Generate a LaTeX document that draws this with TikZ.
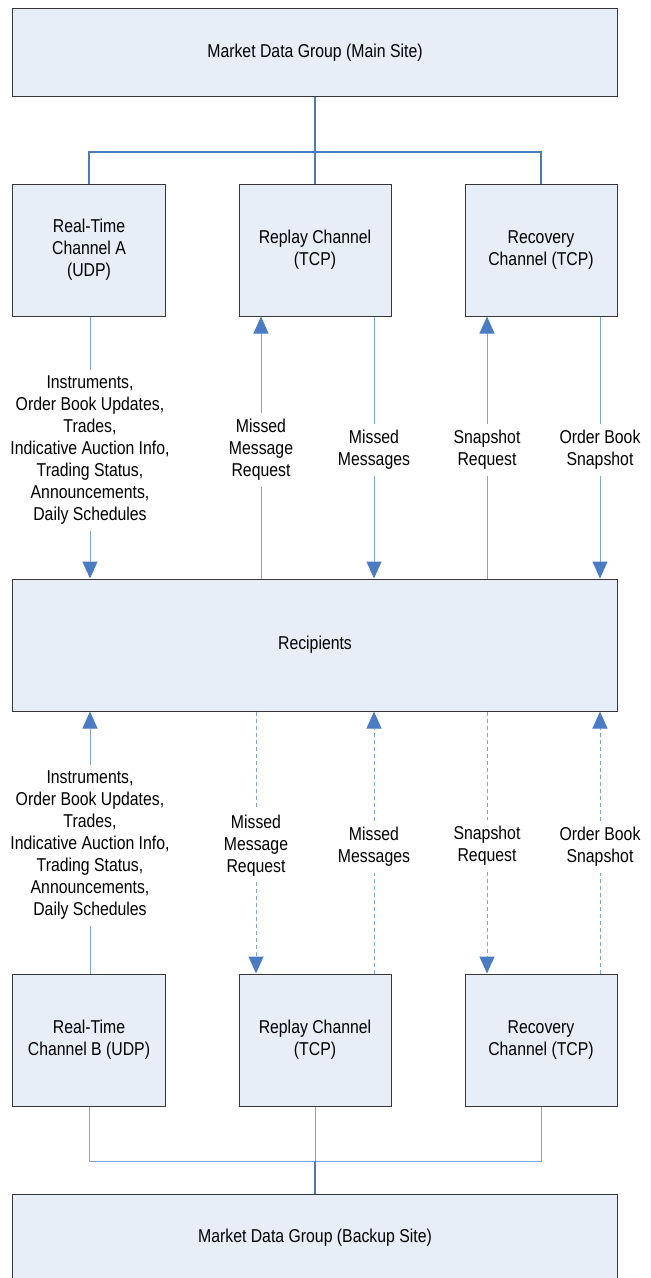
\documentclass[tikz,border=0pt]{standalone}
\usepackage{fontspec}
\setmainfont{Liberation Sans}[FakeStretch=0.85]
\usetikzlibrary{arrows.meta}

\definecolor{boxfill}{RGB}{232,238,247}
\definecolor{boxline}{RGB}{55,55,55}
\definecolor{busblue}{RGB}{74,124,198}
\definecolor{lineblue}{RGB}{125,164,220}

\tikzset{
  box/.style={draw=boxline, fill=boxfill, line width=1bp, align=center},
  bigbox/.style={box, minimum width=604bp, minimum height=88bp},
  chbox/.style={box, minimum width=152bp, minimum height=132bp},
  bus/.style={draw=busblue, line width=2bp},
  thinbus/.style={draw=lineblue, line width=1bp},
  msg/.style={draw=lineblue, line width=1bp},
  msgto/.style={msg, -{Triangle[length=17bp,width=15bp,color=busblue]}},
  dmsg/.style={msg, dash pattern=on 4bp off 3bp},
  dmsgto/.style={msgto, dash pattern=on 4bp off 3bp},
  lbl/.style={fill=white, align=center, inner sep=6bp},
}

\begin{document}
\begin{tikzpicture}[x=1bp,y=-1bp,font=\fontsize{18.6bp}{22bp}\selectfont]

      \clip (0,0) rectangle (651,1278);

      %site principal
      \node[bigbox] (mainsite) at (315,52.5) {Market Data Group (Main Site)};
      %canaux A
      \node[chbox] (rtA) at (89,250) {Real-Time\\Channel A\\(UDP)};
      \node[chbox] (rpA) at (315,250) {Replay Channel\\(TCP)};
      \node[chbox] (rcA) at (541,250) {Recovery\\Channel (TCP)};
      %destinataires
      \node[bigbox, minimum height=132bp] (recip) at (315,645) {Recipients};
      %canaux B
      \node[chbox] (rtB) at (89,1040) {Real-Time\\Channel B (UDP)};
      \node[chbox] (rpB) at (315,1040) {Replay Channel\\(TCP)};
      \node[chbox] (rcB) at (541,1040) {Recovery\\Channel (TCP)};
      %site de secours
      \node[bigbox] (backup) at (315,1238) {Market Data Group (Backup Site)};

      %etiquettes haut
      \node[lbl] (feedA) at (90,450.5) {Instruments,\\Order Book Updates,\\Trades,\\Indicative Auction Info,\\Trading Status,\\Announcements,\\Daily Schedules};
      \node[lbl] (mmrA) at (261,450) {Missed\\Message\\Request};
      \node[lbl] (mmA) at (374,450) {Missed\\Messages};
      \node[lbl] (srA) at (487,450) {Snapshot\\Request};
      \node[lbl] (obsA) at (600,450) {Order Book\\Snapshot};
      %etiquettes bas
      \node[lbl] (feedB) at (90,845.5) {Instruments,\\Order Book Updates,\\Trades,\\Indicative Auction Info,\\Trading Status,\\Announcements,\\Daily Schedules};
      \node[lbl] (mmrB) at (256,845.5) {Missed\\Message\\Request};
      \node[lbl] (mmB) at (374,847) {Missed\\Messages};
      \node[lbl] (srB) at (487,846) {Snapshot\\Request};
      \node[lbl] (obsB) at (600,847) {Order Book\\Snapshot};

      %bus haut
      \coordinate (jtop) at (315,152);
      \draw[bus] (mainsite) -- (rpA);
      \draw[bus] (rtA.north) -- (rtA.north |- jtop) -- (rcA.north |- jtop) -- (rcA.north);
      %bus bas
      \coordinate (jbot) at (315,1161);
      \draw[thinbus] (rtB.south) -- (rtB.south |- jbot) -- (rcB.south |- jbot) -- (rcB.south);
      \draw[thinbus] (rpB) -- (jbot);
      \draw[bus] (jbot) -- (backup);

      %fleches haut
      \draw[msg] (rtA.south -| feedA) -- (feedA);
      \draw[msgto] (feedA) -- (recip.north -| feedA);
      \draw[msg] (recip.north -| mmrA) -- (mmrA);
      \draw[msgto] (mmrA) -- (rpA.south -| mmrA);
      \draw[msg] (rpA.south -| mmA) -- (mmA);
      \draw[msgto] (mmA) -- (recip.north -| mmA);
      \draw[msg] (recip.north -| srA) -- (srA);
      \draw[msgto] (srA) -- (rcA.south -| srA);
      \draw[msg] (rcA.south -| obsA) -- (obsA);
      \draw[msgto] (obsA) -- (recip.north -| obsA);

      %fleches bas
      \draw[msg] (rtB.north -| feedB) -- (feedB);
      \draw[msgto] (feedB) -- (recip.south -| feedB);
      \draw[dmsg] (recip.south -| mmrB) -- (mmrB);
      \draw[dmsgto] (mmrB) -- (rpB.north -| mmrB);
      \draw[dmsg] (rpB.north -| mmB) -- (mmB);
      \draw[dmsgto] (mmB) -- (recip.south -| mmB);
      \draw[dmsg] (recip.south -| srB) -- (srB);
      \draw[dmsgto] (srB) -- (rcB.north -| srB);
      \draw[dmsg] (rcB.north -| obsB) -- (obsB);
      \draw[dmsgto] (obsB) -- (recip.south -| obsB);
    \end{tikzpicture}
\end{document}
